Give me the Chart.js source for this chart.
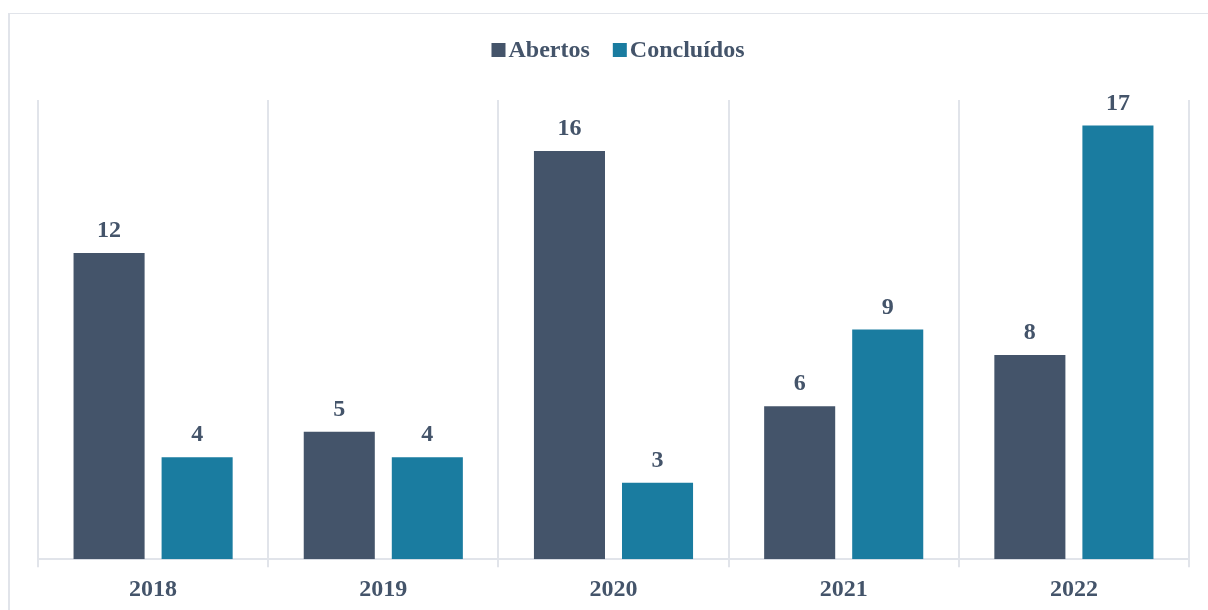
<!DOCTYPE html>
<html>
<head>
<meta charset="utf-8">
<script src="https://cdn.jsdelivr.net/npm/chart.js@4.4.1/dist/chart.umd.min.js"></script>
<style>
  html, body { margin: 0; padding: 0; background: #fff; }
  body { width: 1208px; height: 610px; position: relative; overflow: hidden; }
  .frame {
    position: absolute; left: 8px; top: 13px; width: 1240px; height: 640px;
    border-top: 1px solid #e1e4ea; border-left: 2px solid #e1e4ea;
  }
  #chart-wrap { position: absolute; left: 0; top: 0; width: 1208px; height: 612px; }
</style>
</head>
<body>
<div class="frame"></div>
<div id="chart-wrap"><canvas id="bar-chart" width="1208" height="612"></canvas></div>
<script>
const categories = ["2018", "2019", "2020", "2021", "2022"];
const abertos = [12, 5, 16, 6, 8];
const concluidos = [4, 4, 3, 9, 17];

const textColor = "#44546a";
const gridColor = "#e1e4ea";
const serif = "'Liberation Serif', 'Times New Roman', serif";

// value labels above each bar
const barLabels = {
    id: "barLabels",
    afterDatasetsDraw(chart) {
        const ctx = chart.ctx;
        ctx.save();
        ctx.font = "bold 24px " + serif;
        ctx.fillStyle = textColor;
        ctx.textAlign = "center";
        ctx.textBaseline = "alphabetic";
        chart.data.datasets.forEach((ds, i) => {
            chart.getDatasetMeta(i).data.forEach((bar, j) => {
                ctx.fillText(ds.data[j], bar.x, bar.y - 16);
            });
        });
        ctx.restore();
    }
};

// legend drawn by hand: square close to the text, like the original
const topLegend = {
    id: "topLegend",
    afterDraw(chart) {
        const ctx = chart.ctx;
        const box = 14, gapText = 3, gapItem = 23;
        ctx.save();
        ctx.font = "bold 24px " + serif;
        ctx.textBaseline = "alphabetic";
        ctx.textAlign = "left";
        const items = chart.data.datasets.map(ds => ({
            label: ds.label,
            color: ds.backgroundColor,
            w: ctx.measureText(ds.label).width
        }));
        let total = 0;
        items.forEach((it, i) => {
            total += box + gapText + it.w + (i < items.length - 1 ? gapItem : 0);
        });
        let x = 618 - total / 2;
        items.forEach(it => {
            ctx.fillStyle = it.color;
            ctx.fillRect(x, 43, box, box);
            ctx.fillStyle = textColor;
            ctx.fillText(it.label, x + box + gapText, 57);
            x += box + gapText + it.w + gapItem;
        });
        ctx.restore();
    }
};

let barChart = new Chart(document.getElementById("bar-chart").getContext("2d"), {
    type: "bar",
    data: {
        labels: categories,
        datasets: [{
            label: "Abertos",
            backgroundColor: "#44546a",
            data: abertos,
        }, {
            label: "Concluídos",
            backgroundColor: "#1a7ca0",
            data: concluidos,
        }],
    },
    options: {
        responsive: false,
        animation: false,
        categoryPercentage: 0.765,
        barPercentage: 0.807,
        layout: {
            padding: { left: 38, right: 19, top: 100, bottom: 0 }
        },
        plugins: {
            tooltip: { enabled: false },
            legend: { display: false },
        },
        scales: {
            x: {
                grid: {
                    display: true,
                    offset: true,
                    color: gridColor,
                    lineWidth: 2,
                    tickLength: 8,
                },
                border: { display: true, color: gridColor, width: 2 },
                ticks: {
                    color: textColor,
                    padding: 8,
                    font: { family: serif, size: 24, weight: "bold" },
                },
            },
            y: {
                display: false,
                min: 0,
                max: 18,
            },
        },
    },
    plugins: [barLabels, topLegend],
});
</script>
</body>
</html>
